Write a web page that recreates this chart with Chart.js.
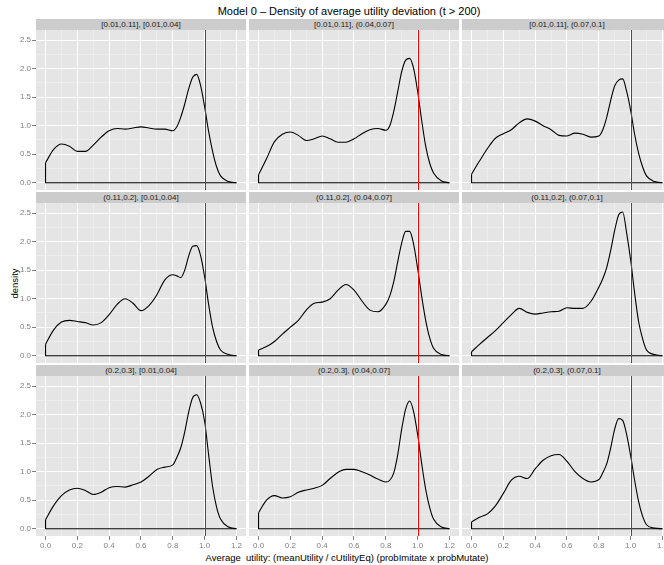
<!DOCTYPE html>
<html>
<head>
<meta charset="utf-8">
<script src="https://cdn.jsdelivr.net/npm/chart.js@4/dist/chart.umd.min.js"></script>
<style>
html,body{margin:0;padding:0;background:#fff;}
#wrap{position:relative;width:664px;height:565px;overflow:hidden;font-family:"Liberation Sans",Arial,sans-serif;background:#fff;}
.strip{position:absolute;background:#cccccc;color:#1a1a1a;font-size:8px;text-align:center;height:11px;line-height:11px;white-space:nowrap;overflow:hidden;}
canvas{position:absolute;}
#title{position:absolute;left:149px;width:400px;top:5px;text-align:center;font-size:11px;line-height:12px;color:#000;white-space:nowrap;}
#xtitle{position:absolute;left:147px;width:400px;top:552px;text-align:center;font-size:9.5px;line-height:11px;color:#000;white-space:pre;}
#ytitle{position:absolute;left:-36px;width:100px;top:278px;text-align:center;font-size:9.5px;line-height:11px;color:#000;transform:rotate(-90deg);white-space:nowrap;}
</style>
</head>
<body>
<div id="wrap">
  <div id="title">Model 0 – Density of average utility deviation (t &gt; 200)</div>
  <div id="xtitle">Average  utility: (meanUtility / cUtilityEq) (probImitate x probMutate)</div>
  <div id="ytitle">density</div>
</div>
<script>
// ---- data ----
const xGrid = [0,0.05,0.1,0.15,0.2,0.25,0.3,0.35,0.4,0.45,0.5,0.55,0.6,0.65,0.7,0.75,0.8,0.825,0.85,0.875,0.9,0.925,0.95,0.975,1.0,1.025,1.05,1.075,1.1,1.15,1.2];

const rowLabels = ['[0.01,0.11]', '(0.11,0.2]', '(0.2,0.3]'];
const colLabels = ['[0.01,0.04]', '(0.04,0.07]', '(0.07,0.1]'];

const densR1C1 = [0.35,0.58,0.68,0.64,0.55,0.55,0.66,0.80,0.91,0.95,0.94,0.96,0.98,0.96,0.94,0.94,0.91,0.98,1.15,1.38,1.65,1.85,1.90,1.70,1.33,0.90,0.55,0.28,0.12,0.02,0];
const densR1C2 = [0.14,0.42,0.72,0.85,0.89,0.83,0.74,0.77,0.82,0.77,0.71,0.71,0.77,0.86,0.93,0.95,0.92,1.0,1.25,1.6,1.95,2.15,2.18,2.0,1.6,1.1,0.65,0.35,0.17,0.03,0];
const densR1C3 = [0.15,0.38,0.60,0.78,0.86,0.93,1.05,1.12,1.08,1.0,0.93,0.83,0.82,0.87,0.85,0.80,0.82,0.93,1.15,1.45,1.70,1.80,1.82,1.60,1.27,0.85,0.52,0.28,0.12,0.02,0];
const densR2C1 = [0.2,0.45,0.59,0.62,0.60,0.58,0.54,0.58,0.72,0.90,1.0,0.92,0.79,0.88,1.07,1.33,1.42,1.40,1.37,1.5,1.75,1.92,1.93,1.75,1.38,0.9,0.5,0.25,0.1,0.02,0];
const densR2C2 = [0.1,0.16,0.25,0.38,0.5,0.62,0.8,0.92,0.94,1.0,1.15,1.25,1.15,0.96,0.8,0.77,0.9,1.05,1.3,1.65,1.98,2.18,2.18,1.95,1.53,1.05,0.63,0.32,0.13,0.02,0];
const densR2C3 = [0.07,0.2,0.32,0.44,0.58,0.72,0.83,0.76,0.73,0.75,0.77,0.78,0.84,0.83,0.83,0.95,1.2,1.35,1.55,1.85,2.2,2.47,2.52,2.15,1.68,1.1,0.6,0.3,0.1,0.02,0];
const densR3C1 = [0.16,0.4,0.58,0.68,0.71,0.67,0.6,0.64,0.72,0.74,0.73,0.77,0.82,0.92,1.04,1.08,1.12,1.25,1.42,1.7,2.05,2.3,2.35,2.2,1.88,1.3,0.74,0.38,0.17,0.03,0];
const densR3C2 = [0.28,0.5,0.58,0.54,0.56,0.64,0.68,0.71,0.76,0.88,0.99,1.04,1.04,1.0,0.94,0.87,0.82,0.85,0.98,1.3,1.75,2.1,2.24,2.05,1.65,1.15,0.7,0.38,0.17,0.03,0];
const densR3C3 = [0.12,0.2,0.26,0.4,0.62,0.85,0.92,0.88,1.05,1.2,1.28,1.3,1.18,1.0,0.88,0.82,0.86,0.98,1.14,1.42,1.75,1.93,1.9,1.65,1.28,0.85,0.48,0.22,0.07,0.01,0];

const xTickValues = [0,0.2,0.4,0.6,0.8,1.0,1.2];
const xTickLabels = ['0.0','0.2','0.4','0.6','0.8','1.0','1.2'];
const yTickValues = [0,0.5,1.0,1.5,2.0,2.5];
const yTickLabels = ['0.0','0.5','1.0','1.5','2.0','2.5'];
const refLineX = 1.0;

// ---- layout (not data) ----
const panels = [[densR1C1,densR1C2,densR1C3],[densR2C1,densR2C2,densR2C3],[densR3C1,densR3C2,densR3C3]];
const colLeft = [36,249,462];
const stripTop = [19,192,365];
const panelW = 210, plotH = 160, stripH = 11;
const xMin = -0.06, xMax = 1.26, yMin = -0.1275, yMax = 2.6775;
const FONT = '"Liberation Sans", Arial, sans-serif';

function withMinor(vals, labels){
  const out = [];
  vals.forEach((v,i)=>{
    out.push({value:v,label:labels[i],major:true});
    if(i<vals.length-1) out.push({value:(v+vals[i+1])/2,label:'',major:false});
  });
  return out;
}
const xTicksAll = withMinor(xTickValues, xTickLabels);
const yTicksAll = withMinor(yTickValues, yTickLabels);

const panelPlugin = {
  id:'panelDeco',
  beforeDraw(chart){
    const {ctx, chartArea:a} = chart;
    ctx.save();
    ctx.fillStyle = '#e5e5e5';
    ctx.fillRect(a.left, a.top, a.right-a.left, a.bottom-a.top);
    ctx.restore();
  },
  afterDatasetsDraw(chart){
    const {ctx, chartArea:a} = chart;
    const x = Math.round(chart.scales.x.getPixelForValue(refLineX)) + 0.5;
    ctx.save();
    ctx.strokeStyle = '#ff0000';
    ctx.lineWidth = 1;
    ctx.beginPath();
    ctx.moveTo(x, a.top);
    ctx.lineTo(x, a.bottom);
    ctx.stroke();
    ctx.restore();
  }
};

const wrap = document.getElementById('wrap');

function gridOpts(all, show){
  return {
    color: c => (all[c.index] && all[c.index].major) ? '#ffffff' : '#f2f2f2',
    lineWidth: c => (all[c.index] && all[c.index].major) ? 1 : 0.6,
    drawTicks: show,
    tickLength: 4,
    tickWidth: 1,
    tickColor: c => (all[c.index] && all[c.index].major) ? '#7f7f7f' : 'rgba(0,0,0,0)'
  };
}

function makePanel(r, c){
  const padL = c===0 ? 36 : 0;
  const padB = r===2 ? 20 : 0;

  const strip = document.createElement('div');
  strip.className = 'strip';
  strip.style.left = colLeft[c]+'px';
  strip.style.top = stripTop[r]+'px';
  strip.style.width = panelW+'px';
  strip.textContent = rowLabels[r] + ', ' + colLabels[c];
  wrap.appendChild(strip);

  const cv = document.createElement('canvas');
  const w = padL + panelW, h = plotH + padB;
  cv.width = w; cv.height = h;
  cv.style.width = w+'px'; cv.style.height = h+'px';
  cv.style.left = (colLeft[c]-padL)+'px';
  cv.style.top = (stripTop[r]+stripH)+'px';
  wrap.appendChild(cv);

  const vals = panels[r][c];
  const last = xGrid.length-1;
  new Chart(cv, {
    type:'line',
    data:{datasets:[
      {data: xGrid.map((x,i)=>({x:x, y:vals[i]})), borderColor:'#000', borderWidth:1.1, pointRadius:0, fill:false, cubicInterpolationMode:'monotone'},
      {data: [{x:xGrid[0], y:vals[0]},{x:xGrid[0], y:0},{x:xGrid[last], y:0}], borderColor:'#000', borderWidth:1.1, pointRadius:0, fill:false, tension:0}
    ]},
    options:{
      responsive:false, animation:false, devicePixelRatio:1,
      layout:{padding:0},
      events:[],
      plugins:{legend:{display:false}, tooltip:{enabled:false}, title:{display:false}},
      scales:{
        x:{
          type:'linear', min:xMin, max:xMax,
          afterBuildTicks: s => { s.ticks = xTicksAll.map(t=>({value:t.value})); },
          afterFit: s => { s.height = padB; s.paddingLeft=0; s.paddingRight=0; s.paddingTop=0; s.paddingBottom=0; },
          ticks:{display: padB>0, autoSkip:false, maxRotation:0, minRotation:0, padding:1, color:'#7f7f7f', font:{size:8, family:FONT}, callback:(v,i)=> xTicksAll[i] ? xTicksAll[i].label : ''},
          grid: gridOpts(xTicksAll, padB>0),
          border:{display:false}
        },
        y:{
          type:'linear', min:yMin, max:yMax,
          afterBuildTicks: s => { s.ticks = yTicksAll.map(t=>({value:t.value})); },
          afterFit: s => { s.width = padL; s.paddingLeft=0; s.paddingRight=0; s.paddingTop=0; s.paddingBottom=0; },
          ticks:{display: padL>0, autoSkip:false, padding:1, color:'#7f7f7f', font:{size:8, family:FONT}, callback:(v,i)=> yTicksAll[i] ? yTicksAll[i].label : ''},
          grid: gridOpts(yTicksAll, padL>0),
          border:{display:false}
        }
      }
    },
    plugins:[panelPlugin]
  });
}

for(let r=0;r<3;r++) for(let c=0;c<3;c++) makePanel(r,c);
</script>
</body>
</html>
